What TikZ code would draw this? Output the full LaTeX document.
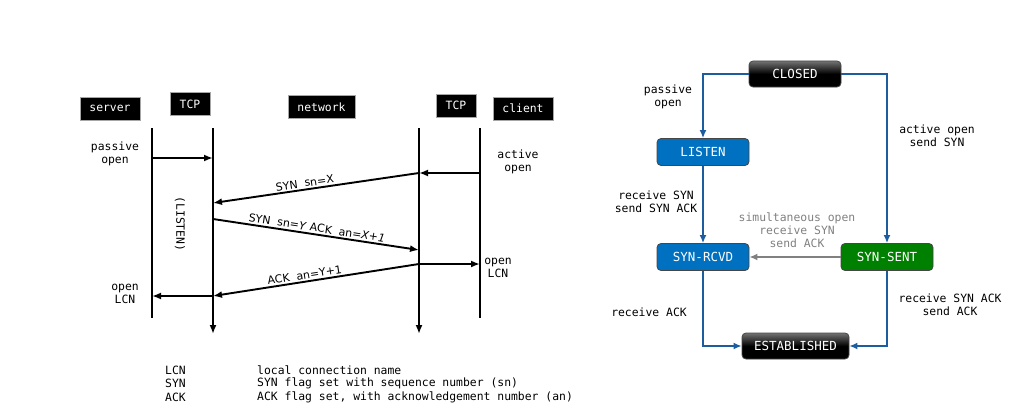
\documentclass[tikz,border=0pt]{standalone}
\usepackage{fontspec}
\setmainfont{DejaVu Sans Mono}
\setmonofont{DejaVu Sans Mono}
\setsansfont{DejaVu Sans}
\usetikzlibrary{arrows.meta}
\definecolor{boxblue}{RGB}{0,112,192}
\definecolor{boxgreen}{RGB}{0,128,0}
\definecolor{lineblue}{RGB}{30,92,160}
\definecolor{simgray}{RGB}{128,128,128}
\definecolor{edgegray}{RGB}{70,70,70}
\begin{document}
\begin{tikzpicture}[x=1pt,y=-1pt,
  mono/.style={font=\fontsize{11.4}{12.8}\selectfont\ttfamily, align=center, inner sep=0pt},
  hdr/.style={fill=black, draw=gray!70, line width=0.6pt, text=white, font=\fontsize{11.4}{13}\selectfont\ttfamily, minimum height=23, inner sep=0pt},
  life/.style={line width=1.9pt},
  lifearr/.style={line width=1.9pt, -{Latex[length=9pt,width=7pt]}},
  msg/.style={line width=1.9pt, -{Latex[length=9pt,width=7pt]}},
  msglbl/.style={font=\fontsize{11}{12}\selectfont\sffamily, inner sep=1.5pt},
  state/.style={rounded corners=4pt, draw=edgegray, line width=0.8pt, text=white, font=\fontsize{12.5}{14}\selectfont\ttfamily, minimum height=27, inner sep=0pt},
  blackstate/.style={state, top color=black!55, bottom color=black, middle color=black},
  trans/.style={draw=lineblue, line width=1.5pt, -{Latex[length=8pt,width=7pt]}},
  lbl/.style={font=\fontsize{11.4}{12.8}\selectfont\ttfamily, align=center, inner sep=0pt}
]
\path[use as bounding box] (0,0) rectangle (1012,412);

% ---------- sequence diagram ----------
\node[hdr, minimum width=60] (server) at (110,108.5) {server};
\node[hdr, minimum width=40] (tcpl) at (190,104) {TCP};
\node[hdr, minimum width=67] (network) at (321.5,107) {network};
\node[hdr, minimum width=40] (tcpr) at (456,105.5) {TCP};
\node[hdr, minimum width=60] (client) at (523,108.5) {client};

\coordinate (s0) at (152,128); \coordinate (s1) at (152,318);
\coordinate (t0) at (213,128); \coordinate (t1) at (213,334);
\coordinate (n0) at (419,128); \coordinate (n1) at (419,334);
\coordinate (c0) at (480,128); \coordinate (c1) at (480,318);
\draw[life] (s0) -- (s1);
\draw[lifearr] (t0) -- (t1);
\draw[lifearr] (n0) -- (n1);
\draw[life] (c0) -- (c1);

\coordinate (sp) at (152,158); \coordinate (tp) at (213,158);
\coordinate (ca) at (480,173); \coordinate (na) at (419,173);
\coordinate (tsyn) at (213,203);
\coordinate (tsa) at (213,219); \coordinate (nsa) at (419,250);
\coordinate (nack) at (419,264); \coordinate (cack) at (480,264);
\coordinate (tack) at (213,296); \coordinate (sack) at (152,296);

\draw[msg] (sp) -- (tp);
\draw[msg] (ca) -- (na);
\draw[msg] (na) -- node[msglbl, sloped, above, pos=0.55] (l1) {SYN\ \ sn=X} (tsyn);
\draw[msg] (tsa) -- node[msglbl, sloped, above, pos=0.5] (l2) {SYN\ \ sn=\textit{Y} ACK\ \ an=\textit{X+1}} (nsa);
\draw[msg] (nack) -- node[msglbl, sloped, above, pos=0.55] (l3) {ACK\ \ an=Y+1} (tack);
\draw[msg] (nack) -- (cack);
\draw[msg] (tack) -- (sack);

\node[mono] (po) at (115,153.5) {passive\\open};
\node[mono] (ao) at (518,161.5) {active\\open};
\node[mono] (olr) at (498,268) {open\\LCN};
\node[mono] (oll) at (125,294) {open\\LCN};
\node[mono, rotate=-90] (lst) at (180,224) {(LISTEN)};

% legend
\node[mono, anchor=west] (k1) at (165,370) {LCN};
\node[mono, anchor=west] (k2) at (165,383.5) {SYN};
\node[mono, anchor=west] (k3) at (165,397) {ACK};
\node[mono, anchor=west] (d1) at (257,370) {local connection name};
\node[mono, anchor=west] (d2) at (257,383.5) {SYN flag set with sequence number (sn)};
\node[mono, anchor=west] (d3) at (257,397) {ACK flag set, with acknowledgement number (an)};

% ---------- state diagram ----------
\node[blackstate, minimum width=92, minimum height=26] (closed) at (795,74) {CLOSED};
\node[state, fill=boxblue, minimum width=92] (listen) at (703,152) {LISTEN};
\node[state, fill=boxblue, minimum width=92] (synrcvd) at (703,257) {SYN-RCVD};
\node[state, fill=boxgreen, minimum width=92] (synsent) at (887,257) {SYN-SENT};
\node[blackstate, minimum width=107, minimum height=26] (est) at (795.5,346) {ESTABLISHED};

\draw[trans] (closed.west) -| (listen.north);
\draw[trans] (closed.east) -| (synsent.north);
\draw[trans] (listen.south) -- (synrcvd.north);
\draw[trans, draw=simgray] (synsent.west) -- (synrcvd.east);
\draw[trans] (synrcvd.south) |- (est.west);
\draw[trans] (synsent.south) |- (est.east);

\node[lbl] (t1l) at (668,96.5) {passive\\open};
\node[lbl] (t2l) at (937,135.5) {active open\\send SYN};
\node[lbl] (t3l) at (656,201.5) {receive SYN\\send SYN ACK};
\node[lbl, text=simgray] (t4l) at (797,230) {simultaneous open\\receive SYN\\send ACK};
\node[lbl] (t5l) at (649,312) {receive ACK};
\node[lbl] (t6l) at (950,304.5) {receive SYN ACK\\send ACK};
\end{tikzpicture}
\end{document}
